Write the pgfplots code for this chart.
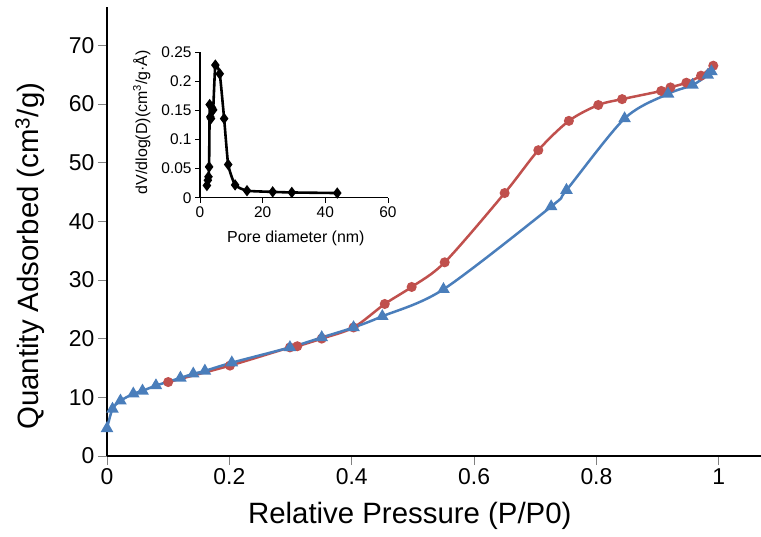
\documentclass[border=0pt]{standalone}
\usepackage{fontspec}
\setmainfont{Liberation Sans}
\usepackage{pgfplots}
\pgfplotsset{compat=1.18}
\definecolor{exred}{RGB}{192,80,77}
\definecolor{exblue}{RGB}{74,126,187}
\begin{document}
\begin{tikzpicture}
\path[use as bounding box] (-107bp,-81bp) rectangle (654bp,456bp);
\begin{axis}[at={(0,0)}, anchor=south west, scale only axis, width=654bp, height=449bp,
 xmin=0, xmax=1.069, ymin=0, ymax=76.5,
 axis x line=bottom, axis y line=left, axis line style={-, line width=2.2bp, black},
 xtick={0,0.2,0.4,0.6,0.8,1}, ytick={0,10,20,30,40,50,60,70},
 xticklabels={0,0.2,0.4,0.6,0.8,1}, yticklabels={0,10,20,30,40,50,60,70},
 tick align=outside, major tick length=9bp, tick style={gray, line width=0.6bp},
 ticklabel style={font=\fontsize{23}{23}\selectfont},
 xlabel={Relative Pressure (P/P0)}, ylabel={Quantity Adsorbed (cm\textsuperscript{3}/g)},
 label style={font=\fontsize{29.5}{29.5}\selectfont},
 xlabel style={at={(axis description cs:0.463,-0.134)}, anchor=center},
 ylabel style={at={(axis description cs:-0.1177,0.445)}, anchor=center},
 clip=false]
\addplot[exred, line width=2.5bp, smooth, tension=0.5, mark=*, mark size=3.7bp, mark options={solid, fill=exred}] coordinates {
(0.100,12.6) (0.201,15.4) (0.299,18.5) (0.311,18.7) (0.351,20.0) (0.403,21.9) (0.454,25.9) (0.498,28.8) (0.552,33.0) (0.650,44.8) (0.705,52.1) (0.755,57.1) (0.803,59.8) (0.842,60.8) (0.906,62.2) (0.921,62.8) (0.947,63.6) (0.971,64.8) (0.991,66.5)};
\addplot[exblue, line width=2.5bp, smooth, tension=0.5, mark=triangle*, mark size=4.8bp, mark options={solid, fill=exblue}] coordinates {
(0.000,4.7) (0.009,8.0) (0.022,9.4) (0.043,10.6) (0.058,11.1) (0.080,12.0) (0.120,13.3) (0.141,14.0) (0.160,14.5) (0.204,15.9) (0.299,18.5) (0.351,20.2) (0.403,21.9) (0.450,23.8) (0.550,28.4) (0.726,42.5) (0.751,45.3) (0.846,57.5) (0.917,61.7) (0.957,63.2) (0.982,64.9) (0.988,65.5)};
\end{axis}
\begin{axis}[at={(93bp,258.3bp)}, anchor=south west, scale only axis, width=188bp, height=145.4bp,
 xmin=0, xmax=60, ymin=0, ymax=0.25,
 axis x line=bottom, axis y line=left, axis line style={-, line width=1.6bp, black},
 xtick={0,20,40,60}, ytick={0,0.05,0.1,0.15,0.2,0.25},
 xticklabels={0,20,40,60}, yticklabels={0,0.05,0.1,0.15,0.2,0.25},
 tick align=outside, major tick length=5bp, tick style={black, line width=0.8bp},
 ticklabel style={font=\fontsize{15.5}{15.5}\selectfont},
 xlabel={Pore diameter (nm)}, ylabel={dV/dlog(D)(cm\textsuperscript{3}/g\textperiodcentered Å)},
 label style={font=\fontsize{16}{16}\selectfont},
 xlabel style={at={(axis description cs:0.51,-0.282)}, anchor=center},
 ylabel style={at={(axis description cs:-0.31,0.52)}, anchor=center},
 clip=false]
\addplot[black, line width=2.6bp, smooth, tension=0.3, mark=diamond*, mark size=3.6bp, mark options={solid, fill=black}] coordinates {
(2.2,0.021) (2.5,0.030) (2.7,0.036) (2.9,0.053) (3.1,0.160) (3.3,0.139) (3.5,0.136) (3.8,0.155) (4.2,0.151) (4.9,0.228) (6.3,0.213) (7.7,0.136) (9.0,0.057) (11.2,0.022) (15.0,0.012) (23.2,0.010) (29.3,0.009) (43.8,0.008)};
\end{axis}
\end{tikzpicture}
\end{document}
